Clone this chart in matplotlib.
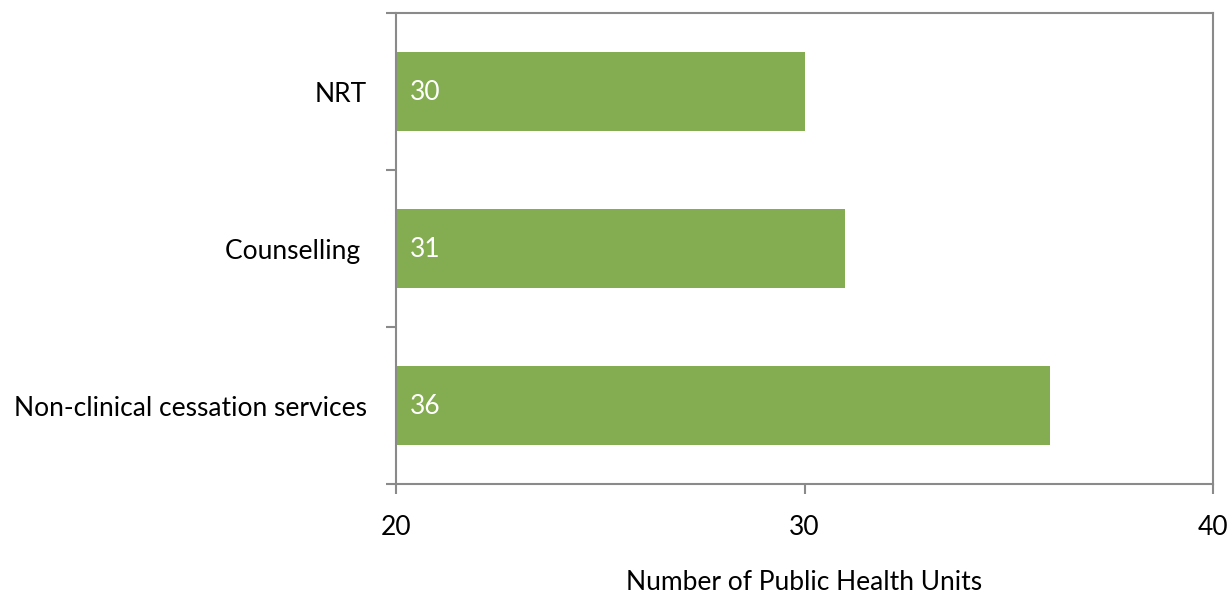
import matplotlib.pyplot as plt

plt.rcParams['font.family'] = ['Lato', 'DejaVu Sans']

categorias = ['Non-clinical cessation services', 'Counselling ', 'NRT']
valores = [36, 31, 30]
xticks = [20, 30, 40]

gris = '#8a8a8a'
verde = '#84ac50'

fig = plt.figure(figsize=(12.31, 5.94), dpi=100)
ax = fig.add_axes([0.3217, 0.1852, 0.9854 - 0.3217, 0.978 - 0.1852])

pos = range(len(categorias))
ax.barh(pos, valores, height=0.5, color=verde, left=0)

# etiquetas de valor dentro de la barra, al inicio
for p, v in zip(pos, valores):
    ax.annotate(str(v), xy=(xticks[0], p), xytext=(10, -1), textcoords='offset points',
                va='center', ha='left', color='white', fontsize=19)

ax.set_xlim(20, 40)
ax.set_ylim(-0.5, 2.5)
ax.set_xticks(xticks)
ax.set_xticklabels([str(t) for t in xticks])
ax.set_yticks([-0.5, 0.5, 1.5, 2.5])
ax.set_yticklabels([])
ax.set_yticks(list(pos), minor=True)
ax.set_yticklabels(categorias, minor=True)
ax.tick_params(axis='y', which='minor', length=0, pad=21, labelsize=19)
ax.tick_params(axis='y', which='major', length=7, width=1.5, color=gris)
ax.tick_params(axis='x', length=7, width=1.5, color=gris, labelsize=19, pad=15)

for s in ax.spines.values():
    s.set_color(gris)
    s.set_linewidth(1.5)

ax.set_xlabel('Number of Public Health Units', fontsize=19, labelpad=22)

fig.savefig('out.png', dpi=100)
